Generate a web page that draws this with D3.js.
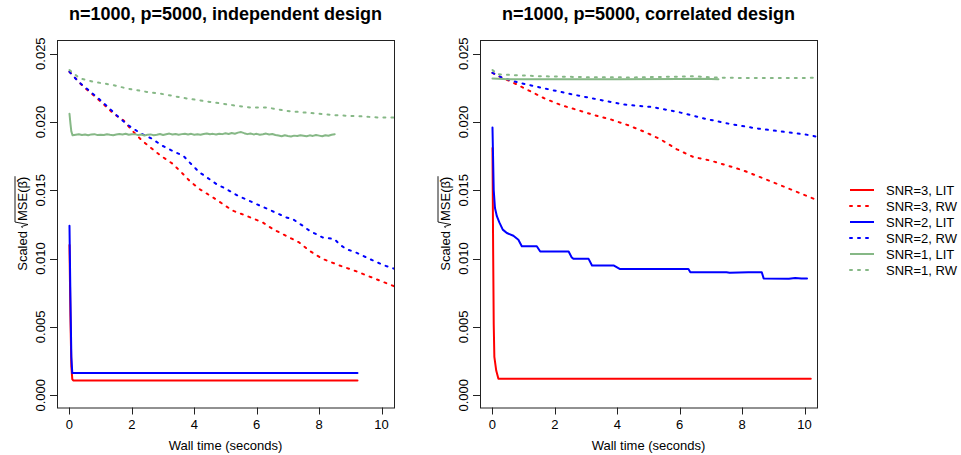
<!DOCTYPE html>
<html>
<head>
<meta charset="utf-8">
<script src="https://cdn.jsdelivr.net/npm/d3@7"></script>
<style>
    body { margin: 0; background: #fff; }
    svg text { font-family: "Liberation Sans", Arial, sans-serif; fill: #000; }
</style>
</head>
<body>
<div id="main"></div>
<script>
// values (time in seconds, scaled sqrt MSE)
var xTicks = [0, 2, 4, 6, 8, 10];
var yTicks = [0, 0.005, 0.010, 0.015, 0.020, 0.025];
var titles = ["n=1000, p=5000, independent design", "n=1000, p=5000, correlated design"];
var legendLabels = ["SNR=3, LIT", "SNR=3, RW", "SNR=2, LIT", "SNR=2, RW", "SNR=1, LIT", "SNR=1, RW"];

// independent design
var indLit3 = [[0, 0.0110], [0.03, 0.0058], [0.06, 0.0021], [0.09, 0.00118], [0.12, 0.00108], [9.23, 0.00108]];
var indRw3 = [[0, 0.02367], [0.45, 0.02257], [0.77, 0.02196], [1.09, 0.0213], [1.41, 0.02061], [1.73, 0.02012],
    [2.0, 0.01939], [2.32, 0.01865], [2.78, 0.01779], [2.99, 0.01743], [3.31, 0.01694], [3.63, 0.01621],
    [3.84, 0.01571], [4.16, 0.0151], [4.59, 0.01449], [4.91, 0.014], [5.23, 0.01351], [5.66, 0.01314],
    [6.19, 0.01265], [6.51, 0.01217], [6.94, 0.01167], [7.36, 0.01118], [7.69, 0.01057], [8.11, 0.00998],
    [8.65, 0.0095], [9.18, 0.00908], [9.71, 0.0086], [10.41, 0.00797]];
var indLit2 = [[0, 0.0124], [0.03, 0.0072], [0.06, 0.0028], [0.09, 0.00162], [9.23, 0.00162]];
var indRw2 = [[0, 0.02367], [0.29, 0.02294], [0.61, 0.02233], [0.93, 0.02172], [1.25, 0.02106], [1.57, 0.02036],
    [1.89, 0.01975], [2.26, 0.01919], [2.64, 0.01878], [2.96, 0.01828], [3.33, 0.01785], [3.65, 0.01752],
    [3.84, 0.01706], [4.16, 0.01632], [4.32, 0.01608], [4.70, 0.01547], [5.02, 0.0151], [5.39, 0.01461],
    [5.98, 0.014], [6.35, 0.01363], [6.94, 0.01302], [7.15, 0.0129], [7.47, 0.01241], [7.69, 0.01204],
    [8.11, 0.01155], [8.49, 0.01143], [8.65, 0.01106], [8.86, 0.0107], [9.18, 0.01045], [9.61, 0.00998],
    [10.09, 0.0095], [10.41, 0.00926]];
var indLit1Head = [[0, 0.0206], [0.03, 0.0199], [0.06, 0.0193]];
// SNR=1 LIT after the drop, every 0.1 s from 0.1 to 8.5
var indLit1Step = 0.1;
var indLit1Vals = [
    0.01902, 0.01906, 0.01910, 0.01905, 0.01908, 0.01903, 0.01909, 0.01911, 0.01904, 0.01907,
    0.01905, 0.01910, 0.01906, 0.01903, 0.01908, 0.01912, 0.01909, 0.01914, 0.01906, 0.01910,
    0.01911, 0.01904, 0.01908, 0.01901, 0.01906, 0.01909, 0.01903, 0.01907, 0.01912, 0.01905,
    0.01910, 0.01915, 0.01908, 0.01912, 0.01906, 0.01911, 0.01914, 0.01909, 0.01913, 0.01907,
    0.01910, 0.01906, 0.01912, 0.01916, 0.01910, 0.01913, 0.01908, 0.01914, 0.01911, 0.01917,
    0.01912, 0.01919, 0.01914, 0.01922, 0.01926, 0.01918, 0.01911, 0.01915, 0.01909, 0.01913,
    0.01906, 0.01910, 0.01915, 0.01908, 0.01912, 0.01905, 0.01901, 0.01896, 0.01903, 0.01898,
    0.01894, 0.01900, 0.01897, 0.01903, 0.01899, 0.01895, 0.01902, 0.01898, 0.01904, 0.01900,
    0.01896, 0.01903, 0.01899, 0.01906, 0.01910];
var indRw1 = [[0, 0.0238], [0.33, 0.02319], [0.77, 0.02294], [1.41, 0.0227], [1.84, 0.02245], [2.48, 0.0222],
    [2.9, 0.02208], [3.65, 0.02176], [4.5, 0.02147], [5.25, 0.02122], [5.79, 0.02106], [6.32, 0.02106],
    [6.96, 0.02081], [7.71, 0.02066], [8.56, 0.02049], [9.31, 0.02042], [9.95, 0.02032], [10.4, 0.02032]];

// correlated design
var corLit3 = [[0, 0.0181], [0.02, 0.0110], [0.04, 0.0052], [0.06, 0.0028], [0.12, 0.0018], [0.19, 0.00121], [10.2, 0.00121]];
var corRw3 = [[0, 0.0236], [0.18, 0.02336], [0.61, 0.02294], [1.14, 0.02233], [1.68, 0.02171], [2.21, 0.02122],
    [2.75, 0.02086], [3.28, 0.02049], [3.81, 0.02017], [4.35, 0.01976], [4.88, 0.01927], [5.37, 0.01875],
    [5.91, 0.01800], [6.44, 0.01743], [6.98, 0.01718], [7.51, 0.01682], [8.04, 0.01645], [8.58, 0.01596],
    [9.12, 0.01547], [9.65, 0.01498], [10.4, 0.01428]];
var corLit2 = [[0, 0.0196], [0.04, 0.0150], [0.08, 0.0137], [0.14, 0.0131], [0.22, 0.01265], [0.33, 0.01212], [0.46, 0.01187],
    [0.67, 0.01167], [0.83, 0.01138], [0.94, 0.0109], [1.42, 0.0109], [1.53, 0.01052], [2.44, 0.01052],
    [2.54, 0.01008], [2.6, 0.00998], [3.08, 0.00998], [3.19, 0.0095], [3.88, 0.0095], [4.09, 0.00923],
    [6.28, 0.00923], [6.34, 0.009], [7.5, 0.009], [7.6, 0.00897], [8.2, 0.009], [8.63, 0.009],
    [8.69, 0.00855], [9.5, 0.00852], [9.7, 0.00858], [9.9, 0.00854], [10.08, 0.00854]];
var corRw2 = [[0, 0.0236], [0.3, 0.02325], [0.82, 0.02289], [1.68, 0.02245], [2.53, 0.02203], [3.39, 0.02164],
    [4.24, 0.02127], [5.10, 0.0211], [5.95, 0.02073], [6.81, 0.02024], [7.66, 0.01983], [8.52, 0.01951],
    [9.37, 0.01927], [10.22, 0.01902], [10.4, 0.0189]];
var corLit1 = [[0, 0.02318], [0.5, 0.02313], [2, 0.02313], [4, 0.02313], [6, 0.02314], [6.6, 0.02316],
    [7.0, 0.02314], [7.24, 0.02313]];
var corRw1 = [[0, 0.0238], [0.15, 0.0235], [0.5, 0.02345], [1.5, 0.02335], [3, 0.02328], [4.5, 0.02326],
    [5.5, 0.0233], [6.0, 0.02332], [6.5, 0.02335], [7.0, 0.02326], [8, 0.02322], [9, 0.02322], [10.4, 0.02323]];

var seriesColors = ["#ff0000", "#ff0000", "#0000ff", "#0000ff", "#86b886", "#86b886"];
var seriesDashed = [false, true, false, true, false, true];

var panel = (function () {
    function panel(args) {
        if (!(this instanceof panel)) {
            return new panel(args);
        }
        var list = Object.keys(args || {});
        for (var ix = 0, ixLen = list.length; ix < ixLen; ix++) {
            this[list[ix]] = args[list[ix]];
        }
        this.initProperty();
        this.init();
    }

    panel.prototype.initProperty = function () {
        this.box = {left: this.left, right: this.left + 337, top: 40, bottom: 407.5};
        this.xScale = d3.scaleLinear().domain([-0.4, 10.4]).range([this.box.left, this.box.right]);
        this.yScale = d3.scaleLinear().domain([-0.0009, 0.0260]).range([this.box.bottom, this.box.top]);
        this.g = this.svg.append("g");
    };

    panel.prototype.init = function () {
        this.drawLines();
        this.drawAxis();
        this.drawTitle();
        this.drawYLabel();
    };

    panel.prototype.drawLines = function () {
        var that = this;
        var clipId = "clip" + this.id;
        this.g.append("clipPath").attr("id", clipId).append("rect")
            .attr("x", this.box.left).attr("y", this.box.top)
            .attr("width", this.box.right - this.box.left).attr("height", this.box.bottom - this.box.top);

        var line = d3.line()
            .x(function (d) { return that.xScale(d[0]); })
            .y(function (d) { return that.yScale(d[1]); });

        // dotted series in R (lty=3, lwd=2) -> short round-capped dashes
        this.g.append("g").attr("clip-path", "url(#" + clipId + ")")
            .selectAll("path").data(this.series).enter()
            .append("path")
            .attr("d", line)
            .attr("fill", "none")
            .attr("stroke", function (d, i) { return seriesColors[i]; })
            .attr("stroke-width", 2)
            .attr("stroke-linejoin", "round")
            .attr("stroke-linecap", "round")
            .attr("stroke-dasharray", function (d, i) { return seriesDashed[i] ? "2,6" : null; });
    };

    panel.prototype.drawAxis = function () {
        var that = this;
        var b = this.box;
        this.g.append("rect")
            .attr("x", b.left + 0.5).attr("y", b.top + 0.5)
            .attr("width", b.right - b.left).attr("height", b.bottom - b.top)
            .attr("fill", "none").attr("stroke", "#222").attr("stroke-width", 1);

        var xAxis = this.g.append("g");
        xAxis.selectAll(".xt").data(xTicks).enter().append("line")
            .attr("x1", function (d) { return Math.round(that.xScale(d)) + 0.5; })
            .attr("x2", function (d) { return Math.round(that.xScale(d)) + 0.5; })
            .attr("y1", b.bottom).attr("y2", b.bottom + 7).attr("stroke", "#222");
        xAxis.selectAll("text").data(xTicks).enter().append("text")
            .attr("x", function (d) { return that.xScale(d); })
            .attr("y", 428.5).attr("text-anchor", "middle").attr("font-size", 13)
            .text(function (d) { return d; });
        this.g.append("text")
            .attr("x", (b.left + b.right) / 2).attr("y", 449.5)
            .attr("text-anchor", "middle").attr("font-size", 13)
            .text("Wall time (seconds)");

        var yAxis = this.g.append("g");
        yAxis.selectAll(".yt").data(yTicks).enter().append("line")
            .attr("x1", b.left - 7).attr("x2", b.left)
            .attr("y1", function (d) { return Math.round(that.yScale(d)) + 0.5; })
            .attr("y2", function (d) { return Math.round(that.yScale(d)) + 0.5; })
            .attr("stroke", "#222");
        yAxis.selectAll("text").data(yTicks).enter().append("text")
            .attr("transform", function (d) {
                return "translate(" + (b.left - 12) + "," + that.yScale(d) + ") rotate(-90)";
            })
            .attr("text-anchor", "middle").attr("font-size", 13)
            .text(function (d) { return d3.format(".3f")(d); });
    };

    panel.prototype.drawTitle = function () {
        this.g.append("text")
            .attr("x", (this.box.left + this.box.right) / 2).attr("y", 20)
            .attr("text-anchor", "middle").attr("font-size", 18).attr("font-weight", "bold")
            .text(this.title);
    };

    panel.prototype.drawYLabel = function () {
        var b = this.box;
        var g = this.g.append("g")
            .attr("transform", "translate(" + (b.left - 30) + "," + ((b.top + b.bottom) / 2) + ") rotate(-90)");
        var t1 = g.append("text").attr("font-size", 13).text("Scaled");
        var t2 = g.append("text").attr("font-size", 13).text("MSE(\u03B2\u0302)");
        var w1 = t1.node().getComputedTextLength();
        var w2 = t2.node().getComputedTextLength();
        var gap = 3, rad = 7;
        var x0 = -(w1 + gap + rad + w2) / 2;
        t1.attr("x", x0);
        t2.attr("x", x0 + w1 + gap + rad);
        var rx = x0 + w1 + gap;
        g.append("path")
            .attr("d", "M" + rx + ",-4.5 L" + (rx + 1.5) + ",-5.5 L" + (rx + 3.5) + ",1 L" + (rx + 6) + ",-12 L" +
                (rx + rad + w2 + 0.5) + ",-12")
            .attr("fill", "none").attr("stroke", "#000").attr("stroke-width", 0.9);
    };

    return panel;
})();

var svg = d3.select("#main").append("svg").attr("width", 961).attr("height", 455);

panel({svg: svg, id: 0, left: 57, title: titles[0],
    series: [indLit3, indRw3, indLit2, indRw2,
        indLit1Head.concat(indLit1Vals.map(function (v, i) { return [(i + 1) * indLit1Step, v]; })), indRw1]});
panel({svg: svg, id: 1, left: 480, title: titles[1],
    series: [corLit3, corRw3, corLit2, corRw2, corLit1, corRw1]});

// legend
var legend = svg.append("g").attr("transform", "translate(849,190)");
var rows = legend.selectAll("g").data(legendLabels).enter().append("g")
    .attr("transform", function (d, i) { return "translate(0," + (i * 16) + ")"; });
rows.append("line")
    .attr("x1", 1).attr("x2", 25).attr("y1", 0).attr("y2", 0)
    .attr("stroke", function (d, i) { return seriesColors[i]; })
    .attr("stroke-width", 2)
    .attr("stroke-linecap", function (d, i) { return seriesDashed[i] ? "round" : "butt"; })
    .attr("stroke-dasharray", function (d, i) { return seriesDashed[i] ? "2,6" : null; });
rows.append("text")
    .attr("x", 37).attr("y", 4.5).attr("font-size", 13)
    .text(function (d) { return d; });
</script>
</body>
</html>
